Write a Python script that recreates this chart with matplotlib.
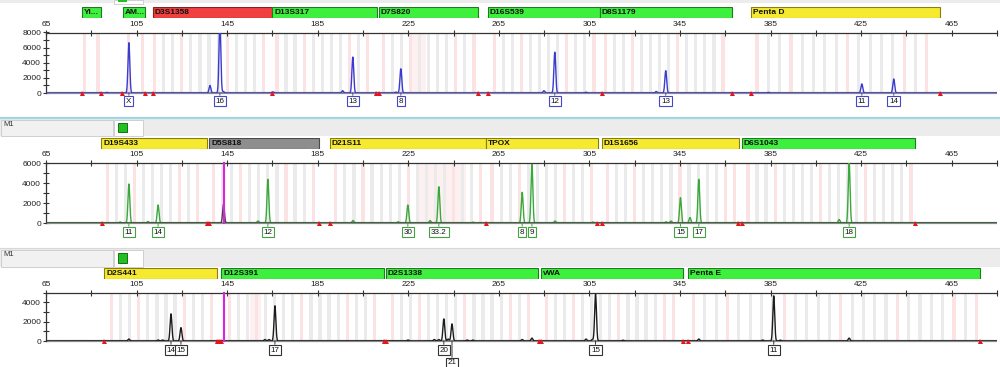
import numpy as np
import matplotlib
matplotlib.use('Agg')
import matplotlib.pyplot as plt
from matplotlib.patches import Rectangle
from matplotlib.ticker import MultipleLocator

plt.rcParams['font.family'] = ['Liberation Sans', 'DejaVu Sans']

# ---------------- data ----------------
x_major = [65, 105, 145, 185, 225, 265, 305, 345, 385, 425, 465]
x_minor = [85, 125, 165, 205, 245, 285, 325, 365, 405, 445, 485]

# panel 1 (blue dye)
p1_markers = ['Yi...', 'AM...', 'D3S1358', 'D13S317', 'D7S820', 'D16S539', 'D8S1179', 'Penta D']
p1_marker_start = [80.9, 99.0, 112.2, 164.8, 212.0, 260.1, 309.6, 376.3]
p1_marker_end = [89.3, 108.7, 164.8, 211.1, 255.7, 309.6, 367.9, 459.7]
p1_marker_kind = ['green', 'green', 'red', 'green', 'green', 'green', 'green', 'yellow']
p1_peak_bp = [91.9, 101.6, 137.4, 141.8, 143.3, 165.2, 196.0, 200.5, 219.5, 221.7, 284.9, 289.7, 303.5, 334.5, 338.7, 384.0, 425.3, 439.4]
p1_peak_h = [80, 6650, 1000, 9500, 200, 150, 300, 4750, 120, 3200, 300, 5400, 100, 200, 2950, 80, 1200, 1850]
p1_allele_bp = [101.6, 141.8, 200.5, 221.7, 289.7, 338.7, 425.3, 439.4]
p1_allele_lab = ['X', '16', '13', '8', '12', '13', '11', '14']
p1_flag_bp = [80.9, 89.3, 98.6, 108.7, 112.3, 164.8, 210.8, 212.1, 255.8, 260.2, 310.6, 368.0, 376.4, 459.9]
p1_bin_start = [82, 101.6, 113, 167, 214, 263, 312, 379]
p1_bin_end = [88, 107.6, 161, 207, 254, 307, 364, 454]
p1_bin_step = [6, 6, 4, 4, 4, 4, 4, 5]
p1_pink_zone = [(225.5, 233.0)]

# panel 2 (green dye)
p2_markers = ['D19S433', 'D5S818', 'D21S11', 'TPOX', 'D1S1656', 'D6S1043']
p2_marker_start = [89.3, 137.0, 190.4, 259.3, 310.5, 372.3]
p2_marker_end = [136.1, 185.5, 259.3, 308.7, 371.0, 448.7]
p2_marker_kind = ['yellow', 'grey', 'yellow', 'yellow', 'yellow', 'green']
p2_peak_bp = [97.7, 101.6, 110.0, 114.5, 158.6, 163.0, 200.6, 220.5, 224.8, 234.6, 238.5, 253.6,
              275.3, 279.6, 289.8, 306.6, 338.8, 341.0, 345.2, 349.4, 353.3, 415.3, 419.7]
p2_peak_h = [100, 3900, 150, 1800, 200, 4370, 250, 120, 1800, 250, 3630, 80,
             3070, 5870, 200, 100, 120, 200, 2530, 550, 4370, 350, 6100]
p2_dark_bp = [143.4]
p2_dark_h = [1900]
p2_allele_bp = [101.6, 114.5, 163.0, 224.8, 238.5, 275.3, 279.6, 345.2, 353.3, 419.7]
p2_allele_lab = ['11', '14', '12', '30', '33.2', '8', '9', '15', '17', '18']
p2_flag_bp = [89.7, 136.1, 137.0, 185.6, 190.4, 259.3, 308.4, 310.6, 370.7, 372.4, 448.8]
p2_bin_start = [92, 139, 193, 262, 313, 375]
p2_bin_end = [134, 183, 257, 306, 369, 447]
p2_bin_step = [4, 4, 4, 4, 4, 4]
p2_pink_zone = [(228.5, 250.5)]

# panel 3 (black dye)
p3_markers = ['D2S441', 'D12S391', 'D2S1338', 'vWA', 'Penta E']
p3_marker_start = [90.6, 142.3, 215.1, 283.5, 348.4]
p3_marker_end = [140.5, 214.2, 282.2, 346.2, 477.4]
p3_marker_kind = ['yellow', 'green', 'green', 'green', 'green']
p3_peak_bp = [101.6, 114.5, 116.5, 120.2, 124.6, 161.7, 163.5, 166.1, 224.9, 236.5, 238.5, 240.7, 242.6, 244.3,
              251.0, 253.5, 275.3, 279.6, 303.5, 306.3, 307.7, 319.8, 353.3, 381.5, 386.4, 389.3, 419.7]
p3_peak_h = [200, 100, 100, 2800, 1380, 150, 150, 3630, 100, 150, 150, 2280, 200, 1760,
             100, 100, 150, 300, 200, 150, 4840, 80, 200, 100, 4660, 80, 300]
p3_allele_bp = [120.2, 124.6, 166.1, 240.7, 244.3, 307.7, 386.4]
p3_allele_lab = ['14', '15', '17', '20', '21', '15', '11']
p3_allele_low = [False, False, False, False, True, False, False]
p3_flag_bp = [90.6, 140.5, 141.4, 142.3, 214.3, 215.2, 282.8, 283.6, 346.4, 348.6, 477.5]
p3_bin_start = [94, 146, 218, 286, 351]
p3_bin_end = [138, 210, 278, 342, 476]
p3_bin_step = [4, 4, 4, 4, 5]
p3_pink_zone = [(155.0, 160.0)]

magenta_bp = 143.4

# ---------------- styles ----------------
W, H = 1000, 367
XL, XR = 46, 997
kind_fc = {'green': '#3ef03e', 'red': '#f04040', 'yellow': '#f6ea30', 'grey': '#8e8e8e'}
kind_ec = {'green': '#1f7a1f', 'red': '#8a1f1f', 'yellow': '#8a7d10', 'grey': '#4a4a4a'}

fig = plt.figure(figsize=(10, 3.67), dpi=100)
fig.patch.set_facecolor('white')


def frect(x0, y0, x1, y1, **kw):
    fig.patches.append(Rectangle((x0 / W, 1 - y1 / H), (x1 - x0) / W, (y1 - y0) / H,
                                 transform=fig.transFigure, **kw))


def header(y0, y1, with_m1=True):
    frect(0, y0, W, y1, fc='#ececec', ec='none', zorder=0)
    if with_m1:
        frect(0.5, y0 + 1, 113, y1, fc='#f1f1f1', ec='#c9c9c9', lw=0.6)
        fig.text(3 / W, 1 - (y0 + 6) / H, 'M1', fontsize=5.5, va='center', ha='left', color='#333333')
    frect(114, y0 + 0.5, 143, y1, fc='white', ec='#c9c9c9', lw=0.6)
    frect(117.5, y0 + 3.5, 126.5, y1 - 3.5, fc='#22c022', ec='#137313', lw=0.7)


# top strip of panel 1, separators, headers
frect(0, 0, W, 3, fc='#ececec', ec='none')
frect(114, 0, 143, 3.5, fc='white', ec='#c9c9c9', lw=0.6)
frect(117.5, 0, 126.5, 1.5, fc='#22c022', ec='none')
fig.add_artist(plt.Line2D([0, 1], [1 - 118 / H] * 2, transform=fig.transFigure, color='#9ed6e6', lw=1.6))
header(119, 135.5)
fig.add_artist(plt.Line2D([0, 1], [1 - 248 / H] * 2, transform=fig.transFigure, color='#d8d8d8', lw=0.8))
header(249, 266.5)

panels = [
    dict(bar=(7, 18), top=32.5, base=93, ymax=8000, yt=[0, 2000, 4000, 6000, 8000],
         markers=p1_markers, ms=p1_marker_start, me=p1_marker_end, mk=p1_marker_kind,
         pbp=p1_peak_bp, ph=p1_peak_h, abp=p1_allele_bp, alab=p1_allele_lab, alow=None,
         flags=p1_flag_bp, bs=p1_bin_start, be=p1_bin_end, bst=p1_bin_step, pz=p1_pink_zone,
         col='#3b3bd0', lab_col='#4646c8', loff=8, magenta=False, dark=None),
    dict(bar=(138, 148.5), top=163, base=223, ymax=6000, yt=[0, 2000, 4000, 6000],
         markers=p2_markers, ms=p2_marker_start, me=p2_marker_end, mk=p2_marker_kind,
         pbp=p2_peak_bp, ph=p2_peak_h, abp=p2_allele_bp, alab=p2_allele_lab, alow=None,
         flags=p2_flag_bp, bs=p2_bin_start, be=p2_bin_end, bst=p2_bin_step, pz=p2_pink_zone,
         col='#3aa83a', lab_col='#44a044', loff=9, magenta=True, dark=(p2_dark_bp, p2_dark_h)),
    dict(bar=(268, 278.5), top=292.5, base=341, ymax=5000, yt=[0, 2000, 4000],
         markers=p3_markers, ms=p3_marker_start, me=p3_marker_end, mk=p3_marker_kind,
         pbp=p3_peak_bp, ph=p3_peak_h, abp=p3_allele_bp, alab=p3_allele_lab, alow=p3_allele_low,
         flags=p3_flag_bp, bs=p3_bin_start, be=p3_bin_end, bst=p3_bin_step, pz=p3_pink_zone,
         col='#1c1c1c', lab_col='#333333', loff=9, magenta=True, dark=None),
]

xg = np.linspace(65, 485, 9000)
sig = 0.4


def trace(bps, hs):
    y = np.zeros_like(xg)
    for b, h in zip(bps, hs):
        y += h * np.exp(-0.5 * ((xg - b) / sig) ** 2)
    return y


for P in panels:
    # marker bars
    bt, bb = P['bar']
    bax = fig.add_axes([XL / W, 1 - bb / H, (XR - XL) / W, (bb - bt) / H])
    bax.set_xlim(65, 485)
    bax.set_ylim(0, 1)
    bax.axis('off')
    for name, s, e, k in zip(P['markers'], P['ms'], P['me'], P['mk']):
        bax.add_patch(Rectangle((s, 0), e - s, 1, fc=kind_fc[k], ec=kind_ec[k], lw=0.8))
        t = bax.text(s + 0.9, 0.5, name, fontsize=6, fontweight='bold', va='center', ha='left',
                     color='#101010')
        t.set_clip_path(bax.patches[-1])

    # main axis
    ax = fig.add_axes([XL / W, 1 - P['base'] / H, (XR - XL) / W, (P['base'] - P['top']) / H])
    ax.set_xlim(65, 485)
    ax.set_ylim(0, P['ymax'])
    ax.patch.set_alpha(0)

    # bins
    for a, b in P['pz']:
        ax.axvspan(a, b, color='#fdf0f0', lw=0, zorder=0)
    for s, e, st in zip(P['bs'], P['be'], P['bst']):
        cs = np.arange(s, e + 0.01, st)
        for i, c in enumerate(cs):
            pink = (i == 0 or i == len(cs) - 1 or i % 5 == 3)
            ax.axvspan(c - 0.7, c + 0.7, color='#fbe3e3' if pink else '#ebebeb', lw=0, zorder=0)

    # baseline
    ax.plot([65, 485], [0, 0], color='#8a8a8a', lw=1.6, clip_on=False, zorder=2, solid_capstyle='butt')

    # peaks
    ax.plot(xg, trace(P['pbp'], P['ph']), color=P['col'], lw=1.0, zorder=3)
    if P['dark'] is not None:
        ax.plot(xg, trace(*P['dark']), color='#3a4a3a', lw=1.0, zorder=3)

    if P['magenta']:
        ax.plot([magenta_bp, magenta_bp], [0, P['ymax']], color='#e020e0', lw=1.5, zorder=5,
                clip_on=False)

    # flags
    ax.plot(P['flags'], [0] * len(P['flags']), '^', color='#e8141c', ms=3.6, mew=0,
            clip_on=False, zorder=4)

    # allele labels
    for i, (b, lab) in enumerate(zip(P['abp'], P['alab'])):
        low = P['alow'][i] if P['alow'] is not None else False
        off = 22 if low else P['loff']
        ax.annotate(lab, xy=(b, 0), xytext=(0, -off), textcoords='offset pixels',
                    ha='center', va='center', fontsize=5.8, color='#111111',
                    bbox=dict(boxstyle='square,pad=0.22', fc='white', ec=P['lab_col'], lw=0.8),
                    arrowprops=dict(arrowstyle='-', color=P['lab_col'], lw=0.7, shrinkA=0, shrinkB=0),
                    annotation_clip=False, zorder=6)

    # spines / ticks
    for sp in ['right', 'bottom']:
        ax.spines[sp].set_visible(False)
    for sp in ['top', 'left']:
        ax.spines[sp].set_color('#333333')
        ax.spines[sp].set_linewidth(0.9)
    ax.xaxis.tick_top()
    ax.set_xticks(x_major)
    ax.set_xticks(x_minor, minor=True)
    ax.tick_params(axis='x', which='both', direction='inout', length=4, width=0.8,
                   labelsize=6, pad=1.5, colors='#333333', labelcolor='#222222')
    ax.set_yticks(P['yt'])
    ax.yaxis.set_minor_locator(MultipleLocator(1000))
    ax.tick_params(axis='y', which='both', direction='inout', length=4, width=0.8,
                   labelsize=6, pad=1.5, colors='#333333', labelcolor='#222222')

fig.savefig('out.png', dpi=100, facecolor='white')
